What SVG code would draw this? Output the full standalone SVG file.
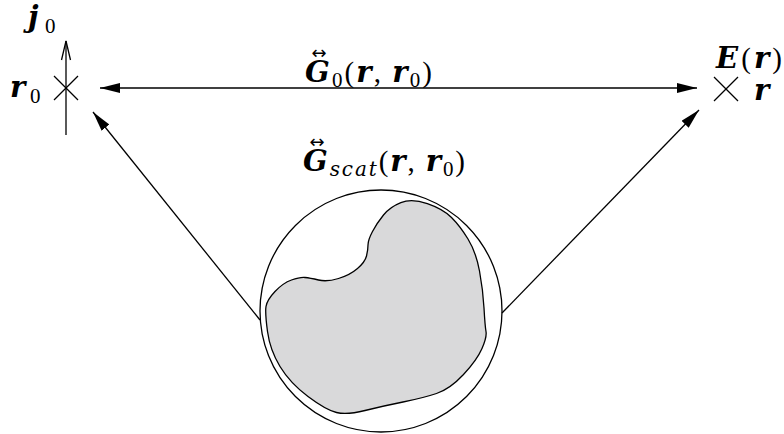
<svg xmlns="http://www.w3.org/2000/svg" width="784" height="434" viewBox="0 0 784 434">
<style>
.ln{stroke:#000;stroke-width:1.3;fill:none}
.t{font-family:"Liberation Serif","DejaVu Serif",serif;fill:#000}
.bi{font-family:"DejaVu Serif",serif;font-weight:bold;font-style:italic}
.it{font-family:"DejaVu Serif",serif;font-style:italic}
.acc{font-family:"DejaVu Sans",sans-serif;font-size:18px;fill:#000}
</style>
<defs>
<marker id="ah" markerUnits="userSpaceOnUse" markerWidth="20" markerHeight="10" refX="20" refY="5" orient="auto-start-reverse" viewBox="0 0 20 10">
<path d="M0,0 L20,5 L0,10 Z" fill="#000"/>
</marker>
</defs>
<rect width="784" height="434" fill="#fff"/>
<g id="connectors">
<line class="ln" x1="100" y1="88" x2="697" y2="88" marker-start="url(#ah)" marker-end="url(#ah)"/>
<line class="ln" x1="260" y1="320" x2="93" y2="112" marker-end="url(#ah)"/>
<line class="ln" x1="502" y1="313" x2="699" y2="110" marker-end="url(#ah)"/>
</g>
<g id="source">
<line class="ln" x1="66" y1="135" x2="66" y2="41"/>
<polyline class="ln" points="61.5,60 66,41 70.5,60"/>
<line class="ln" x1="54" y1="76" x2="78" y2="100"/>
<line class="ln" x1="54" y1="100" x2="78" y2="76"/>
</g>
<g id="j0-label">
<text class="t" font-size="29" y="27"><tspan class="bi" x="28">j</tspan><tspan x="45" y="33" font-size="21">0</tspan></text>
</g>
<g id="r0-label">
<text class="t" font-size="29" y="97"><tspan class="bi" x="10">r</tspan><tspan x="30" y="103" font-size="21">0</tspan></text>
</g>
<g id="field">
<line class="ln" x1="714" y1="77" x2="738" y2="101"/>
<line class="ln" x1="714" y1="101" x2="738" y2="77"/>
</g>
<g id="E-label">
<text class="t" font-size="29" x="716" y="68" textLength="66" lengthAdjust="spacing"><tspan class="bi">E</tspan>(<tspan class="bi">r</tspan>)</text>
</g>
<g id="r-label">
<text class="t bi" font-size="29" x="754" y="100">r</text>
</g>
<g id="G0-label">
<text class="acc" x="319" y="59" text-anchor="middle">↔</text>
<text class="t" font-size="29" x="305" y="82" textLength="127" lengthAdjust="spacing"><tspan class="bi">G</tspan><tspan font-size="21" dy="5">0</tspan><tspan dy="-5">(</tspan><tspan class="bi">r</tspan>, <tspan class="bi">r</tspan><tspan font-size="21" dy="5">0</tspan><tspan dy="-5">)</tspan></text>
</g>
<g id="Gscat-label">
<text class="acc" x="317" y="148" text-anchor="middle">↔</text>
<text class="t" font-size="29" x="303" y="171" textLength="162" lengthAdjust="spacing"><tspan class="bi">G</tspan><tspan class="it" font-size="20" dy="5">scat</tspan><tspan dy="-5">(</tspan><tspan class="bi">r</tspan>, <tspan class="bi">r</tspan><tspan font-size="21" dy="5">0</tspan><tspan dy="-5">)</tspan></text>
</g>
<g id="scatterer">
<circle class="ln" cx="381" cy="311" r="121"/>
<path d="M400.85,202.65 Q411.7,198.3 427.35,203.65 Q443,209 451.5,217.5 Q460,226 468,239 Q476,252 479.5,271 Q483,290 484,308 Q485,326 486,331.5 Q487,337 482,348.5 Q477,360 463.5,374.5 Q450,389 436.5,393.5 Q423,398 403,402 Q383,406 365,410.5 Q347,415 336.5,412.5 Q326,410 308,396.5 Q290,383 280,366.5 Q270,350 267.5,331.5 Q265,313 266,306.5 Q267,300 275,291.5 Q283,283 291.5,280 Q300,277 305,277.5 Q310,278 318.5,280 Q327,282 338.5,278.5 Q350,275 357.5,268.5 Q365,262 366.5,256 Q368,250 368,245 Q368,240 372.5,231.5 Q377,223 383.5,215 Q390,207 400.85,202.65 Z" fill="#d9d9da" stroke="#000" stroke-width="1.3"/>
</g>
</svg>
